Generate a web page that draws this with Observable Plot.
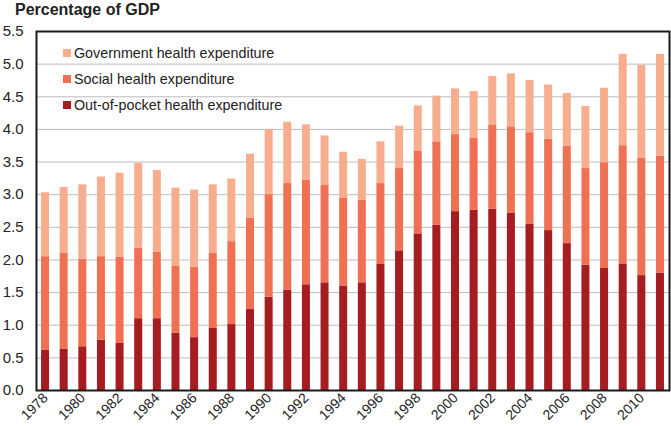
<!DOCTYPE html>
<html>
<head>
<meta charset="utf-8">
<script src="https://cdn.jsdelivr.net/npm/d3@7"></script>
<script src="https://cdn.jsdelivr.net/npm/@observablehq/plot@0.6"></script>
<style>
  body { margin: 0; background: #fff; font-family: "Liberation Sans", Arial, sans-serif; }
  #wrap { position: relative; width: 671px; height: 426px; overflow: hidden; }
  #title { position: absolute; left: 15px; top: 1px; font-weight: bold; font-size: 16px; color: #222; }
  #chart { position: absolute; left: 0; top: 22px; width: 671px; height: 404px; }
  #chart svg { max-width: none !important; width: 671px; height: 404px; display: block; }
  #legend { position: absolute; left: 63px; top: 40px; font-size: 14.3px; color: #222; }
  .item { display: flex; align-items: center; height: 26px; }
  .sw { width: 8px; height: 8px; margin-right: 3px; }
</style>
</head>
<body>
<div id="wrap">
  <div id="title">Percentage of GDP</div>
  <div id="chart"></div>
  <div id="legend"></div>
</div>
<script>
const title = "Percentage of GDP";
const years = [1978,1979,1980,1981,1982,1983,1984,1985,1986,1987,1988,1989,1990,1991,1992,1993,1994,1995,1996,1997,1998,1999,2000,2001,2002,2003,2004,2005,2006,2007,2008,2009,2010,2011];
const outOfPocket = [0.62,0.63,0.67,0.77,0.72,1.10,1.10,0.88,0.81,0.95,1.01,1.24,1.43,1.54,1.62,1.65,1.60,1.65,1.93,2.14,2.40,2.53,2.74,2.76,2.78,2.72,2.55,2.45,2.25,1.92,1.87,1.93,1.76,1.80];
const social =      [1.43,1.47,1.34,1.28,1.32,1.08,1.02,1.02,1.08,1.15,1.27,1.40,1.57,1.63,1.60,1.49,1.35,1.26,1.24,1.26,1.27,1.28,1.18,1.10,1.28,1.32,1.40,1.40,1.49,1.48,1.62,1.82,1.80,1.79];
const government =  [0.98,1.01,1.14,1.22,1.29,1.30,1.25,1.20,1.18,1.05,0.96,0.98,1.00,0.94,0.85,0.76,0.70,0.63,0.64,0.65,0.69,0.70,0.70,0.72,0.75,0.81,0.80,0.83,0.81,0.95,1.14,1.40,1.42,1.56];
const seriesNames = ["Out-of-pocket health expenditure","Social health expenditure","Government health expenditure"];
const seriesColors = ["#A51D21","#F07054","#F9AD8F"];
const yTicks = [0,0.5,1,1.5,2,2.5,3,3.5,4,4.5,5,5.5];
const xTickYears = years.filter(y => y % 2 === 0).map(String);

const seriesValues = [outOfPocket, social, government];
const data = [];
seriesNames.forEach((name, s) => {
  years.forEach((yr, i) => data.push({year: String(yr), series: name, value: seriesValues[s][i]}));
});

const chart = Plot.plot({
  width: 671,
  height: 404,
  marginTop: 9,
  marginLeft: 36,
  marginRight: 2,
  marginBottom: 36,
  style: {fontFamily: "Liberation Sans, Arial, sans-serif", fontSize: "14px", color: "#222", background: "#fff"},
  x: {domain: years.map(String), paddingInner: 0.57, paddingOuter: 0.27, round: false, label: null},
  y: {domain: [0, 5.5], label: null},
  color: {domain: seriesNames, range: seriesColors},
  marks: [
    Plot.gridY(yTicks, {stroke: "#bdbdbd", strokeOpacity: 1, strokeWidth: 1}),
    Plot.barY(data, {x: "year", y: "value", fill: "series", order: seriesNames}),
    Plot.frame({stroke: "#1a1a1a", strokeWidth: 2}),
    Plot.axisY(yTicks, {tickSize: 0, tickPadding: 13, fontSize: 15, tickFormat: d3.format(".1f"), label: null}),
    Plot.axisX(xTickYears, {tickSize: 0, tickPadding: 5, tickRotate: -45, fontSize: 14, label: null})
  ]
});
document.getElementById("chart").appendChild(chart);

const legend = document.getElementById("legend");
[2,1,0].forEach(i => {
  const it = document.createElement("div");
  it.className = "item";
  const sw = document.createElement("div");
  sw.className = "sw";
  sw.style.background = seriesColors[i];
  const tx = document.createElement("span");
  tx.textContent = seriesNames[i];
  it.appendChild(sw); it.appendChild(tx);
  legend.appendChild(it);
});
</script>
</body>
</html>
